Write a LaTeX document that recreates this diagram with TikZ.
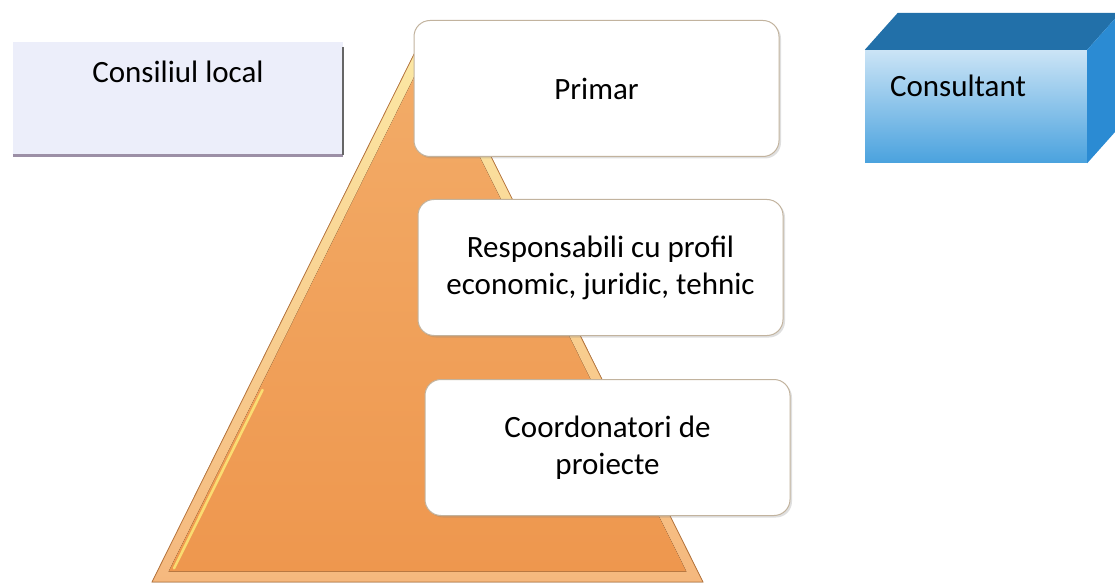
\documentclass[tikz,border=0pt]{standalone}
\usepackage{fontspec}
\setmainfont{Carlito}
\usetikzlibrary{positioning,calc,shadows}
\definecolor{pyrlight}{HTML}{F5B87E}
\definecolor{pyrtop}{HTML}{F3AC68}
\definecolor{pyrmain}{HTML}{EE974E}
\definecolor{pyredge}{HTML}{B9773F}
\definecolor{lvlline}{HTML}{C2B39E}
\definecolor{consfill}{HTML}{ECEEFA}
\definecolor{consedge}{HTML}{9C8FA6}
\definecolor{cubetop}{HTML}{2270A9}
\definecolor{cubeside}{HTML}{2B8BD3}
\definecolor{cubehi}{HTML}{CBE4F6}
\definecolor{cubelo}{HTML}{4AA2DE}

\begin{document}
\begin{tikzpicture}[x=1pt,y=-1pt,font=\fontsize{31}{37}\selectfont,
  lvl/.style={draw=lvlline,line width=1pt,rounded corners=16pt,fill=white,align=center,
    minimum width=365pt,minimum height=136pt,inner sep=0pt,
    drop shadow={shadow xshift=2pt,shadow yshift=-2pt,opacity=0.25}},
  flat/.style={fill=consfill,align=center,minimum width=330pt,minimum height=113pt,
    inner xsep=0pt,inner ysep=11pt,text height=30pt,text depth=61pt},
  cube/.style={top color=cubehi,bottom color=cubelo,align=left,text width=172pt,
    inner xsep=25pt,inner ysep=11pt,text height=36pt,text depth=55pt}]
  \useasboundingbox (0,0) rectangle (1115,585);
  \clip (0,0) rectangle (1115,585);
  % pyramid
  \coordinate (apex) at (427,28);
  \coordinate (bl) at (152,582);
  \coordinate (br) at (703,582);
  \coordinate (inc) at (427.5,411);
  \fill[top color=pyrlight!60!yellow!50!white,bottom color=pyrlight] (apex) -- (bl) -- (br) -- cycle;
  \fill[top color=pyrtop,bottom color=pyrmain] ($(inc)!0.94!(apex)$) -- ($(inc)!0.94!(bl)$) -- ($(inc)!0.94!(br)$) -- cycle;
  \draw[yellow!50!white,line width=2.5pt,line cap=round,opacity=0.7]
    ($(inc)!0.92!(bl)$) -- ($($(inc)!0.92!(bl)$)!0.35!($(inc)!0.92!(apex)$)$);
  \draw[pyredge,line width=0.8pt] (apex) -- (bl) -- (br) -- cycle;
  % levels
  \node[lvl] (prim) at (596.5,88.5) {Primar};
  \node[lvl,below=42pt of prim,xshift=4pt] (resp) {Responsabili cu profil\\ economic, juridic, tehnic};
  \node[lvl,below=43pt of resp,xshift=7pt] (coord) {Coordonatori de\\ proiecte};
  % side boxes
  \node[flat] (cons) at (178,98.5) {Consiliul local};
  \draw[consedge,line width=3pt] (cons.south west) -- (cons.south east);
  \draw[gray!80!black,line width=1.5pt] ([yshift=-5pt]cons.north east) -- (cons.south east);
  \node[cube] (cnslt) at (976,106.5) {Consultant};
  \fill[cubetop] (cnslt.north west) -- ++(33,-37) -- ($(cnslt.north east)+(33,-37)$) -- (cnslt.north east) -- cycle;
  \fill[cubeside] (cnslt.north east) -- ++(33,-37) -- ($(cnslt.south east)+(33,-37)$) -- (cnslt.south east) -- cycle;
\end{tikzpicture}
\end{document}
